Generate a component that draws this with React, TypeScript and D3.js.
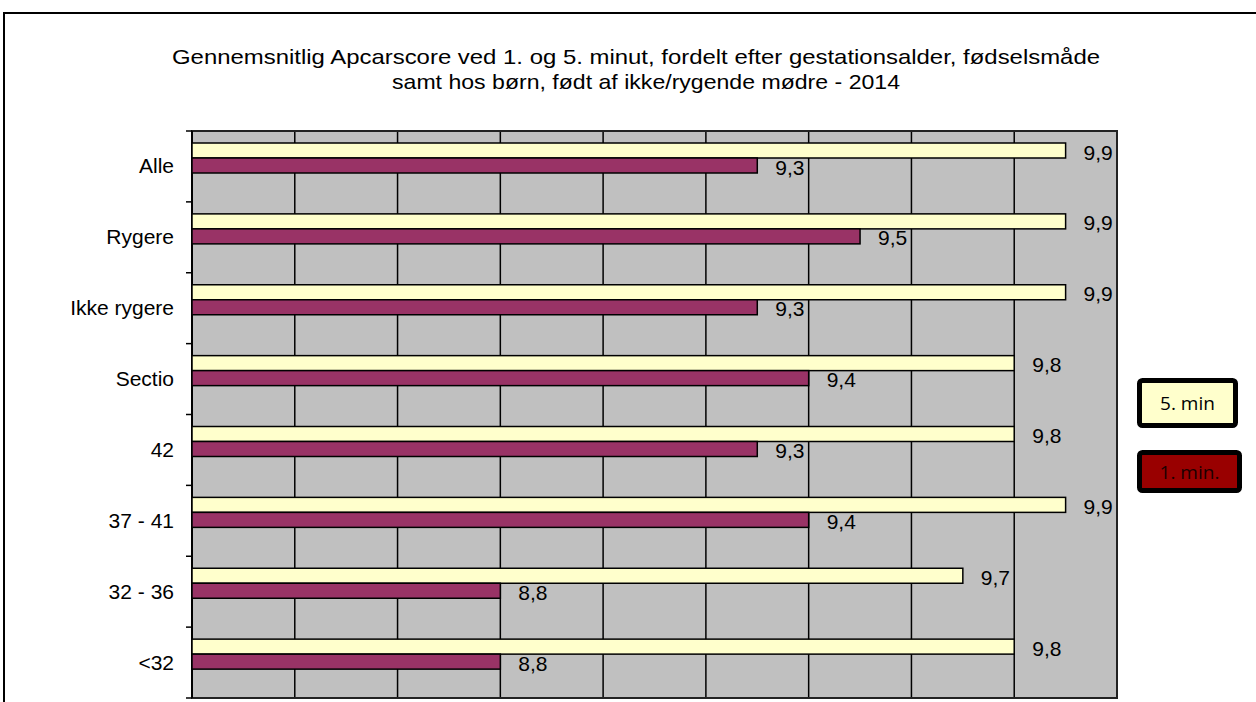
import { useEffect, useRef } from 'react';
import * as d3 from 'd3';

const categories = ['Alle', 'Rygere', 'Ikke rygere', 'Sectio', '42', '37 - 41', '32 - 36', '<32'];
const series = ['5. min', '1. min.'];
const fiveMin = [9.9, 9.9, 9.9, 9.8, 9.8, 9.9, 9.7, 9.8];
const oneMin = [9.3, 9.5, 9.3, 9.4, 9.3, 9.4, 8.8, 8.8];
const gridTicks = [8.4, 8.6, 8.8, 9.0, 9.2, 9.4, 9.6, 9.8];
const titleLines = [
    'Gennemsnitlig Apcarscore ved 1. og 5. minut, fordelt efter gestationsalder, fødselsmåde',
    'samt hos børn, født af ikke/rygende mødre - 2014'
];
const titleWidths = [928, 508];

const W = 1256;
const H = 702;
const colors = ['#FFFFCC', '#993366'];
const legendFill = ['#FFFFCC', '#990000'];

const App = () => {
    const svgRef = useRef<SVGSVGElement>(null);

    useEffect(() => {
        const svg = d3.select(svgRef.current);
        svg.selectAll('*').remove();

        const x = d3.scaleLinear().domain([8.2, 10]).range([192, 1117]);
        const y = d3.scaleBand().domain(categories).range([131, 698]);
        const sub = d3.scaleBand().domain(series).range([12, 42]);

        // outer frame
        svg.append('rect')
            .attr('x', 4).attr('y', 13)
            .attr('width', 1400).attr('height', 900)
            .attr('fill', 'white')
            .attr('stroke', '#000').attr('stroke-width', 2);

        // title
        svg.append('g')
            .selectAll('text')
            .data(titleLines)
            .join('text')
            .attr('x', (d, i) => (i === 0 ? 172 : 392))
            .attr('y', (d, i) => 64 + i * 25)
            .attr('textLength', (d, i) => titleWidths[i])
            .attr('lengthAdjust', 'spacingAndGlyphs')
            .attr('font-family', 'Liberation Sans, Arial, sans-serif')
            .attr('font-size', 21)
            .attr('fill', '#000')
            .text(d => d);

        // plot background
        svg.append('rect')
            .attr('x', x(8.2)).attr('y', 131)
            .attr('width', x(10) - x(8.2)).attr('height', 698 - 131)
            .attr('fill', '#C0C0C0');

        // vertical gridlines
        svg.append('g')
            .selectAll('line')
            .data(gridTicks)
            .join('line')
            .attr('x1', d => x(d)).attr('x2', d => x(d))
            .attr('y1', 131).attr('y2', 698)
            .attr('stroke', '#000').attr('stroke-width', 1.5);

        // plot border
        svg.append('rect')
            .attr('x', x(8.2)).attr('y', 131)
            .attr('width', x(10) - x(8.2)).attr('height', 698 - 131)
            .attr('fill', 'none')
            .attr('stroke', '#222').attr('stroke-width', 2);

        // y axis with ticks
        const bounds = categories.map(c => y(c)).concat([698]);
        svg.append('g')
            .selectAll('line')
            .data(bounds)
            .join('line')
            .attr('x1', 186).attr('x2', 192)
            .attr('y1', d => d).attr('y2', d => d)
            .attr('stroke', '#000').attr('stroke-width', 1.5);
        svg.append('line')
            .attr('x1', 192).attr('x2', 192)
            .attr('y1', 131).attr('y2', 698)
            .attr('stroke', '#000').attr('stroke-width', 2);

        svg.append('g')
            .selectAll('text')
            .data(categories)
            .join('text')
            .attr('x', 174)
            .attr('y', d => y(d) + y.bandwidth() / 2 + 7)
            .attr('text-anchor', 'end')
            .attr('font-family', 'Liberation Sans, Arial, sans-serif')
            .attr('font-size', 21)
            .attr('fill', '#000')
            .text(d => d);

        // bars
        const all = [fiveMin, oneMin];
        series.forEach((s, si) => {
            const g = svg.append('g');
            const rows = categories.map((c, i) => ({ c, v: all[si][i] }));
            g.selectAll('rect')
                .data(rows)
                .join('rect')
                .attr('x', x(8.2))
                .attr('y', d => y(d.c) + sub(s))
                .attr('width', d => x(d.v) - x(8.2))
                .attr('height', sub.bandwidth())
                .attr('fill', colors[si])
                .attr('stroke', '#000').attr('stroke-width', 1.5);
            g.selectAll('text')
                .data(rows)
                .join('text')
                .attr('x', d => x(d.v) + 18)
                .attr('y', d => y(d.c) + sub(s) + sub.bandwidth() / 2 + 9)
                .attr('font-family', 'Liberation Sans, Arial, sans-serif')
                .attr('font-size', 21)
                .attr('fill', '#000')
                .text(d => d3.format('.1f')(d.v).replace('.', ','));
        });

        // legend
        const legendBoxes = [
            { x: 1139.5, y: 380.5, w: 96, h: 45 },
            { x: 1139.5, y: 452.5, w: 100, h: 38 }
        ];
        const lg = svg.append('g').selectAll('g')
            .data(series)
            .join('g');
        lg.append('rect')
            .attr('x', (d, i) => legendBoxes[i].x)
            .attr('y', (d, i) => legendBoxes[i].y)
            .attr('width', (d, i) => legendBoxes[i].w)
            .attr('height', (d, i) => legendBoxes[i].h)
            .attr('rx', 3)
            .attr('fill', (d, i) => legendFill[i])
            .attr('stroke', '#000').attr('stroke-width', 5);
        lg.append('text')
            .attr('x', (d, i) => legendBoxes[i].x + legendBoxes[i].w / 2)
            .attr('y', (d, i) => legendBoxes[i].y + legendBoxes[i].h / 2 + 7)
            .attr('text-anchor', 'middle')
            .attr('font-family', 'Open Sans, Noto Sans, sans-serif')
            .attr('font-size', 19)
            .attr('fill', (d, i) => (i === 0 ? '#000' : '#1a0000'))
            .text(d => d);
    }, []);

    return (
        <svg
            ref={svgRef}
            width={W}
            height={H}
            style={{ position: 'absolute', left: 0, top: 0, background: 'white' }}
        />
    );
};

export default App;
